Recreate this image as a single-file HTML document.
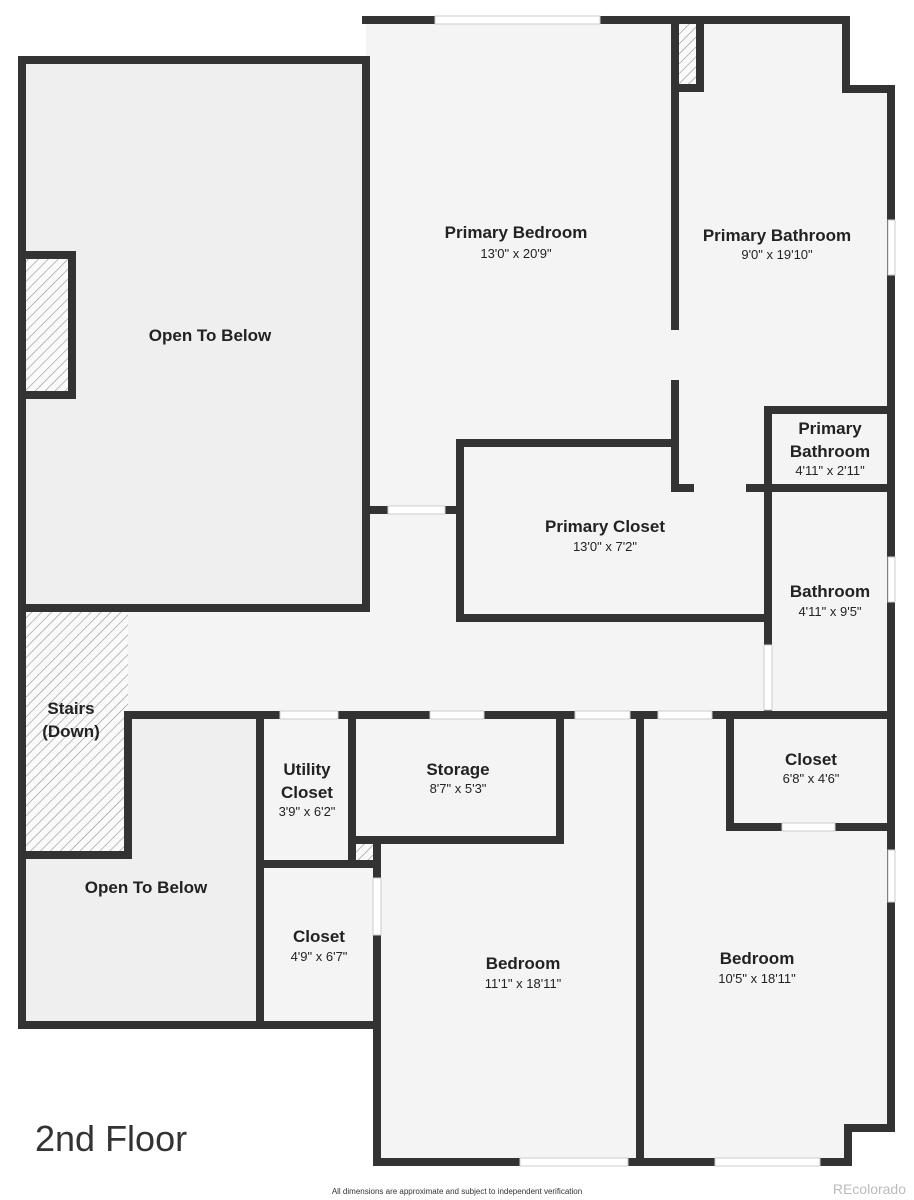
<!DOCTYPE html>
<html><head><style>body{margin:0;background:#fff}svg{display:block}</style></head><body>
<svg width="914" height="1200" viewBox="0 0 914 1200" xmlns="http://www.w3.org/2000/svg" font-family="Liberation Sans, sans-serif">
<defs><pattern id="h" width="7" height="7" patternUnits="userSpaceOnUse" patternTransform="rotate(45)"><rect width="7" height="7" fill="#fafafa"/><line x1="0" y1="0" x2="0" y2="7" stroke="#999" stroke-width="1.3"/></pattern></defs>
<g fill="#f4f4f4">
<rect x="366" y="20" width="480" height="600"/><rect x="675" y="89" width="216" height="1039"/>
<rect x="22" y="60" width="344" height="548"/><rect x="22" y="608" width="869" height="110"/>
<rect x="22" y="715" width="355" height="310"/><rect x="377" y="715" width="471" height="447"/>
</g>
<rect x="128" y="715" width="132" height="310" fill="#efefef"/><rect x="22" y="855" width="238" height="170" fill="#efefef"/>
<rect x="22" y="60" width="344" height="548" fill="#efefef"/>
<rect x="22" y="610" width="106" height="245" fill="url(#h)"/>
<rect x="22" y="255" width="50" height="140" fill="url(#h)"/>
<rect x="675" y="20" width="25" height="68" fill="url(#h)"/>
<rect x="356" y="844" width="19" height="18" fill="url(#h)"/>
<g stroke="#333" stroke-width="8" fill="none" stroke-linecap="square">
<path d="M366 20H846V89H891V1128H848V1162H377V1025H22V60H366V608H22"/>
<path d="M366 510H460"/><path d="M460 618V443H675"/><path d="M460 618H768"/>
<path d="M675 20V326"/><path d="M675 384V488H690"/><path d="M675 88H700V20"/>
<path d="M22 255H72V395H22"/>
<path d="M768 410H891"/><path d="M750 488H891"/><path d="M768 410V645"/><path d="M768 710V715"/>
<path d="M128 855V715H891"/><path d="M22 855H128"/>
<path d="M260 715V1025"/><path d="M352 715V864H260"/><path d="M352 864H377V848"/>
<path d="M352 840H560V715"/><path d="M377 848V1162"/>
<path d="M640 715V1162"/><path d="M730 715V827H891"/>
</g>
<g fill="#fff" stroke="#ccc" stroke-width="1">
<rect x="435" y="16" width="165" height="8"/><rect x="888" y="220" width="7" height="55"/>
<rect x="388" y="506" width="57" height="8"/><rect x="764" y="645" width="8" height="65"/>
<rect x="888" y="557" width="7" height="45"/><rect x="280" y="711" width="58" height="8"/>
<rect x="430" y="711" width="54" height="8"/><rect x="575" y="711" width="55" height="8"/>
<rect x="658" y="711" width="54" height="8"/><rect x="782" y="823" width="53" height="8"/>
<rect x="888" y="850" width="7" height="52"/><rect x="373" y="878" width="8" height="57"/>
<rect x="520" y="1158" width="108" height="8"/><rect x="715" y="1158" width="105" height="8"/>
</g>
<g fill="#222" text-anchor="middle" font-weight="bold" font-size="17">
<text x="516" y="238">Primary Bedroom</text><text x="777" y="241">Primary Bathroom</text>
<text x="210" y="341">Open To Below</text><text x="830" y="434">Primary</text><text x="830" y="457">Bathroom</text>
<text x="605" y="532">Primary Closet</text><text x="830" y="597">Bathroom</text>
<text x="71" y="714">Stairs</text><text x="71" y="737">(Down)</text>
<text x="307" y="775">Utility</text><text x="307" y="798">Closet</text><text x="458" y="775">Storage</text>
<text x="811" y="765">Closet</text><text x="146" y="893">Open To Below</text>
<text x="319" y="942">Closet</text><text x="523" y="969">Bedroom</text><text x="757" y="964">Bedroom</text>
</g>
<g fill="#222" text-anchor="middle" font-size="13">
<text x="516" y="258">13'0" x 20'9"</text><text x="777" y="259">9'0" x 19'10"</text>
<text x="830" y="475">4'11" x 2'11"</text><text x="605" y="551">13'0" x 7'2"</text>
<text x="830" y="616">4'11" x 9'5"</text><text x="307" y="816">3'9" x 6'2"</text>
<text x="458" y="793">8'7" x 5'3"</text><text x="811" y="783">6'8" x 4'6"</text>
<text x="319" y="961">4'9" x 6'7"</text><text x="523" y="988">11'1" x 18'11"</text><text x="757" y="983">10'5" x 18'11"</text>
</g>
<text x="35" y="1151" font-size="36" fill="#333">2nd Floor</text>
<text x="457" y="1194" font-size="8" fill="#333" text-anchor="middle">All dimensions are approximate and subject to independent verification</text>
<text x="906" y="1194" font-size="14" fill="#bbb" text-anchor="end">REcolorado</text>
</svg>
</body></html>
